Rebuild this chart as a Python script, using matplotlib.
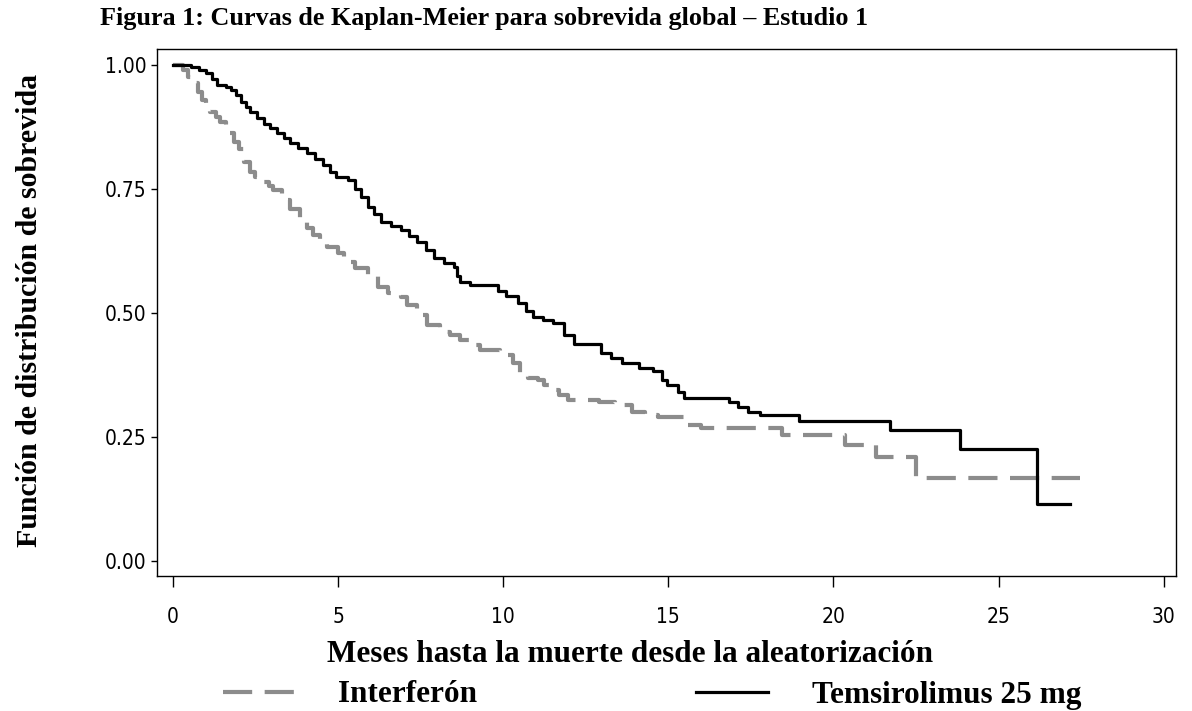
import matplotlib
matplotlib.use("Agg")
import matplotlib.pyplot as plt
from matplotlib import font_manager

# ---- data ----
tem_time = [0, 0.55, 0.8, 1.0, 1.2, 1.35, 1.6, 1.75, 1.9, 2.05, 2.2, 2.35, 2.55, 2.75, 2.95,
            3.15, 3.35, 3.55, 3.8, 4.05, 4.3, 4.55, 4.75, 4.95, 5.3, 5.5, 5.7, 5.9, 6.1, 6.3,
            6.6, 6.9, 7.15, 7.4, 7.65, 7.9, 8.2, 8.5, 8.6, 8.7, 9.0, 9.85, 10.1, 10.45, 10.7,
            10.9, 11.2, 11.5, 11.85, 12.15, 12.97, 13.27, 13.6, 14.1, 14.55, 14.8, 14.95, 15.3,
            15.46, 16.85, 17.1, 17.4, 17.77, 18.95, 21.7, 23.84, 26.15, 27.15]
tem_surv = [1.0, 0.995, 0.99, 0.984, 0.972, 0.96, 0.955, 0.95, 0.94, 0.925, 0.915, 0.905, 0.893,
            0.88, 0.872, 0.863, 0.853, 0.843, 0.833, 0.823, 0.81, 0.798, 0.785, 0.775, 0.768,
            0.75, 0.734, 0.714, 0.70, 0.684, 0.675, 0.667, 0.655, 0.643, 0.627, 0.61, 0.60,
            0.593, 0.575, 0.563, 0.556, 0.545, 0.535, 0.52, 0.505, 0.492, 0.485, 0.48, 0.456,
            0.437, 0.42, 0.409, 0.40, 0.39, 0.383, 0.365, 0.355, 0.34, 0.328, 0.32, 0.31, 0.30,
            0.294, 0.283, 0.264, 0.226, 0.115, 0.115]

ifn_time = [0, 0.3, 0.45, 0.6, 0.75, 0.88, 1.0, 1.12, 1.3, 1.43, 1.6, 1.73, 1.85, 2.0, 2.15,
            2.34, 2.5, 2.73, 2.9, 3.04, 3.3, 3.55, 3.86, 4.05, 4.25, 4.45, 4.68, 5.0, 5.17, 5.5,
            5.9, 6.2, 6.5, 6.9, 7.1, 7.4, 7.7, 8.1, 8.4, 8.7, 9.0, 9.3, 9.9, 10.3, 10.5, 10.75,
            11.05, 11.25, 11.45, 11.7, 11.95, 12.9, 13.4, 13.9, 14.3, 14.7, 15.5, 16.0, 18.43,
            20.35, 21.3, 22.5, 27.45]
ifn_surv = [1.0, 0.99, 0.975, 0.964, 0.945, 0.93, 0.915, 0.905, 0.895, 0.885, 0.873, 0.863,
            0.845, 0.83, 0.805, 0.784, 0.775, 0.764, 0.755, 0.748, 0.728, 0.71, 0.688, 0.672,
            0.657, 0.645, 0.633, 0.62, 0.603, 0.59, 0.577, 0.553, 0.54, 0.532, 0.516, 0.496,
            0.476, 0.462, 0.455, 0.446, 0.435, 0.425, 0.415, 0.40, 0.379, 0.37, 0.365, 0.355,
            0.345, 0.335, 0.325, 0.32, 0.315, 0.30, 0.295, 0.29, 0.274, 0.268, 0.254, 0.234,
            0.21, 0.167, 0.167]

x_ticks = [0, 5, 10, 15, 20, 25, 30]
y_ticks = [0.00, 0.25, 0.50, 0.75, 1.00]
y_ticklabels = ["0.00", "0.25", "0.50", "0.75", "1.00"]

title = "Figura 1: Curvas de Kaplan-Meier para sobrevida global – Estudio 1"
xlabel = "Meses hasta la muerte desde la aleatorización"
ylabel = "Función de distribución de sobrevida"
labels = ["Interferón", "Temsirolimus 25 mg"]

# ---- fonts ----
tick_prop = None
cands = []
for f in font_manager.fontManager.ttflist:
    key = (f.name + " " + f.fname).lower()
    if ("narrow" in key or "condensed" in key) and "serif" not in f.name.lower() \
            and "mono" not in key and f.weight in (400, "normal", "regular"):
        if f.style == "normal":
            cands.append(f)
if cands:
    pref = sorted(cands, key=lambda f: (0 if "liberation" in f.fname.lower() else
                                        1 if "dejavu" in f.fname.lower() else 2))
    tick_prop = font_manager.FontProperties(fname=pref[0].fname, size=15)
else:
    tick_prop = font_manager.FontProperties(family="Liberation Sans", size=14)
serif = "Liberation Serif"

W, H = 1192, 711
fig = plt.figure(figsize=(W / 100, H / 100), dpi=100)
ax = fig.add_axes([157 / W, 1 - 576 / H, (1176 - 157) / W, (576 - 49) / H])

l_ifn, = ax.plot(ifn_time, ifn_surv, drawstyle="steps-post", color="#8c8c8c",
                 lw=3.0, linestyle=(0, (7, 3)))
l_tem, = ax.plot(tem_time, tem_surv, drawstyle="steps-post", color="black", lw=2.3)

ax.set_xlim(-0.48, 30.37)
ax.set_ylim(-0.030, 1.032)
ax.set_xticks(x_ticks)
ax.set_yticks(y_ticks)
ax.set_yticklabels(y_ticklabels)
for lab in ax.get_xticklabels() + ax.get_yticklabels():
    lab.set_fontproperties(tick_prop)
ax.tick_params(axis="x", direction="out", length=8, width=1, pad=14)
ax.tick_params(axis="y", direction="out", length=4.5, width=1, pad=3)
for s in ax.spines.values():
    s.set_linewidth(1.0)

fig.text(100 / W, 1 - 18 / H, title, ha="left", va="center", family=serif,
         weight="bold", fontsize=18.8)
fig.text(630 / W, 1 - 655 / H, xlabel, ha="center", va="center", family=serif,
         weight="bold", fontsize=22.5)
fig.text(30 / W, 1 - 310 / H, ylabel, ha="center", va="center", rotation=90,
         family=serif, weight="bold", fontsize=21.5)

leg = fig.legend([l_ifn, l_tem], labels, ncol=2, loc="center",
                 bbox_to_anchor=(652 / W, 1 - 695 / H), frameon=False,
                 prop={"family": serif, "weight": "bold", "size": 22.5},
                 handlelength=2.3, handletextpad=1.4, columnspacing=7.0,
                 borderpad=0.2)

fig.savefig("out.png", dpi=100)
